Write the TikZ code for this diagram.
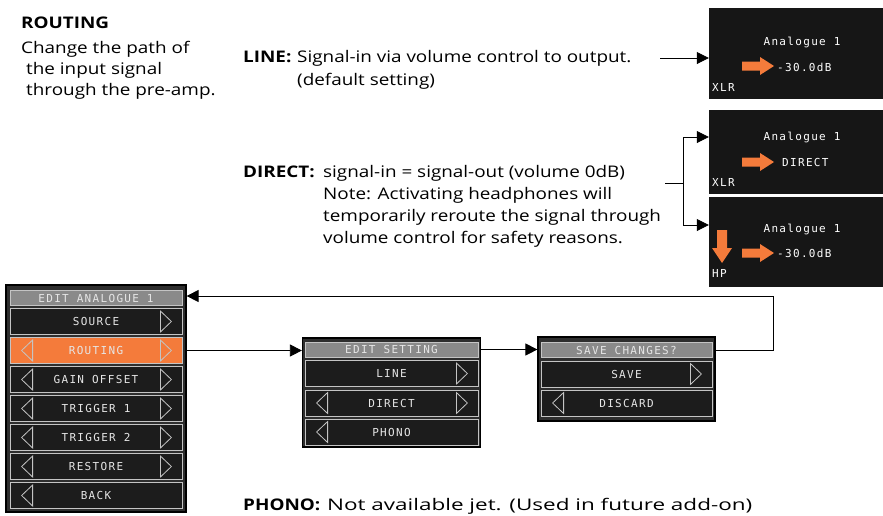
\documentclass[tikz,border=0pt]{standalone}
\usepackage{fontspec}
\setmainfont[FakeStretch=1.18]{Open Sans}
\newfontfamily\pixfont[LetterSpace=12]{DejaVu Sans Mono}
\usetikzlibrary{arrows.meta}
\definecolor{orangec}{HTML}{F47B3B}
\definecolor{rowbg}{HTML}{1C1C1C}
\definecolor{rowedge}{HTML}{C4C4C4}
\definecolor{headbg}{HTML}{8A8A8A}
\definecolor{pixtext}{HTML}{E6E6E6}
\definecolor{dispbg}{HTML}{161616}
\definecolor{framebg}{HTML}{2E2E2E}
\newcommand\menuL[1]{\draw[tri] (#1.west) ++(23,-10.5) -- ++(-11,10.5) -- ++(11,10.5) -- cycle;}
\newcommand\menuR[1]{\draw[tri] (#1.east) ++(-22,-10.5) -- ++(11,10.5) -- ++(-11,10.5) -- cycle;}
\newcommand\oarrR[2]{\fill[orangec] (#1,#2-4.5) -- (#1+18,#2-4.5) -- (#1+18,#2-9) -- (#1+32,#2) -- (#1+18,#2+9) -- (#1+18,#2+4.5) -- (#1,#2+4.5) -- cycle;}
\newcommand\oarrD[2]{\fill[orangec] (#1-5,#2) -- (#1-5,#2+18) -- (#1-10,#2+18) -- (#1,#2+33) -- (#1+10,#2+18) -- (#1+5,#2+18) -- (#1+5,#2) -- cycle;}
\begin{document}
\begin{tikzpicture}[x=1pt,y=-1pt,
  frame/.style={draw=black, line width=1.2pt, fill=framebg, inner sep=0},
  mrow/.style={draw=rowedge, line width=0.8pt, fill=rowbg, text=pixtext,
    font=\pixfont\fontsize{11}{11}\selectfont, minimum height=26, inner sep=0},
  mhead/.style={mrow, fill=headbg, minimum height=15},
  sel/.style={fill=orangec},
  tri/.style={draw=rowedge, line width=0.8pt},
  arr/.style={-{Triangle[length=12pt,width=12pt]}, line width=0.8pt},
  body/.style={font=\fontsize{16}{22}\selectfont, inner sep=0, anchor=base west},
  disp/.style={fill=dispbg, inner sep=0},
  dtxt/.style={text=white, font=\pixfont\fontsize{11}{11}\selectfont, inner sep=0}]
\useasboundingbox (0,0) rectangle (883,515);
% texts
\node[body] (rtitle) at (21,28) {\bfseries ROUTING};
\node[body] (rd1) at (21,53) {Change the path of};
\node[body] (rd2) at (26,74) {the input signal};
\node[body] (rd3) at (26,95) {through the pre-amp.};
\node[body] (lineh) at (243,62) {\bfseries LINE:};
\node[body] (line1) at (297,62) {Signal-in via volume control to output.};
\node[body] (line2) at (297,85) {(default setting)};
\node[body] (dirh) at (243,177) {\bfseries DIRECT:};
\node[body] (dir1) at (323,177) {signal-in = signal-out (volume 0dB)};
\node[body] (dir2) at (323,199) {Note: Activating headphones will};
\node[body] (dir3) at (323,221) {temporarily reroute the signal through};
\node[body] (dir4) at (323,243) {volume control for safety reasons.};
\node[body] (phonoh) at (243,510) {\bfseries PHONO:};
\node[body] (phono) at (327,510) {\scalebox{1.19}[1]{Not available jet. (Used in future add-on)}};
% displays
\node[disp, minimum width=174, minimum height=91] (d1) at (796,53.5) {};
\node[disp, minimum width=174, minimum height=84] (d2) at (796,152) {};
\node[disp, minimum width=174, minimum height=90] (d3) at (796,242) {};
\node[dtxt] (d1a) at (802,42) {Analogue 1};
\node[dtxt, anchor=west] (d1b) at (777,67) {-30.0dB};
\node[dtxt, anchor=west] (d1c) at (712,87) {XLR};
\node[dtxt] (d2a) at (802,137) {Analogue 1};
\node[dtxt, anchor=west] (d2b) at (782,162) {DIRECT};
\node[dtxt, anchor=west] (d2c) at (712,182) {XLR};
\node[dtxt] (d3a) at (802,229) {Analogue 1};
\node[dtxt, anchor=west] (d3b) at (777,253) {-30.0dB};
\node[dtxt, anchor=west] (d3c) at (712,273) {HP};
\oarrR{742}{66}
\oarrR{742}{162}
\oarrR{742}{253}
\oarrD{722}{230}
% text-to-display connectors
\coordinate (la) at (660,58);
\draw[arr] (la) -- (la -| d1.west);
\coordinate (db) at (665,183);
\coordinate (bj) at (683,183);
\draw[line width=0.8pt] (db) -- (bj);
\draw[arr] (bj) -- (683,137) -- (d2.west |- 0,137);
\draw[arr] (bj) -- (683,225) -- (d3.west |- 0,225);
% left menu
\node[frame, minimum width=180, minimum height=227] (f1) at (96,398.5) {};
\node[mhead, minimum width=172] (h1) at (96,298) {EDIT ANALOGUE 1};
\node[mrow, minimum width=172] (r1) at (96,321.5) {SOURCE};
\node[mrow, sel, minimum width=172] (r2) at (96,350.5) {ROUTING};
\node[mrow, minimum width=172] (r3) at (96,379.5) {GAIN OFFSET};
\node[mrow, minimum width=172] (r4) at (96,408.5) {TRIGGER 1};
\node[mrow, minimum width=172] (r5) at (96,437.5) {TRIGGER 2};
\node[mrow, minimum width=172] (r6) at (96,466.5) {RESTORE};
\node[mrow, minimum width=172] (r7) at (96,495.5) {BACK};
\menuR{r1}
\menuL{r2}\menuR{r2}
\menuL{r3}\menuR{r3}
\menuL{r4}\menuR{r4}
\menuL{r5}\menuR{r5}
\menuL{r6}\menuR{r6}
\menuL{r7}
% middle menu
\node[frame, minimum width=178, minimum height=109] (f2) at (391.5,392.5) {};
\node[mhead, minimum width=173] (h2) at (391.5,349.5) {EDIT SETTING};
\node[mrow, minimum width=173] (s1) at (391.5,373.5) {LINE};
\node[mrow, minimum width=173] (s2) at (391.5,403) {DIRECT};
\node[mrow, minimum width=173] (s3) at (391.5,432) {PHONO};
\menuR{s1}
\menuL{s2}\menuR{s2}
\menuL{s3}
% save menu
\node[frame, minimum width=177, minimum height=84] (f3) at (626.5,379) {};
\node[mhead, minimum width=171] (h3) at (626.5,350) {SAVE CHANGES?};
\node[mrow, minimum width=171] (v1) at (626.5,374) {SAVE};
\node[mrow, minimum width=171] (v2) at (626.5,403) {DISCARD};
\menuR{v1}
\menuL{v2}
% menu connectors
\draw[arr] (r2 -| f1.east) -- (r2 -| f2.west);
\draw[arr] (h2 -| f2.east) -- (h2 -| f3.west);
\coordinate (ret) at (773,296);
\draw[arr] (h3 -| f3.east) -| (ret) -- (ret -| f1.east);
\end{tikzpicture}
\end{document}
